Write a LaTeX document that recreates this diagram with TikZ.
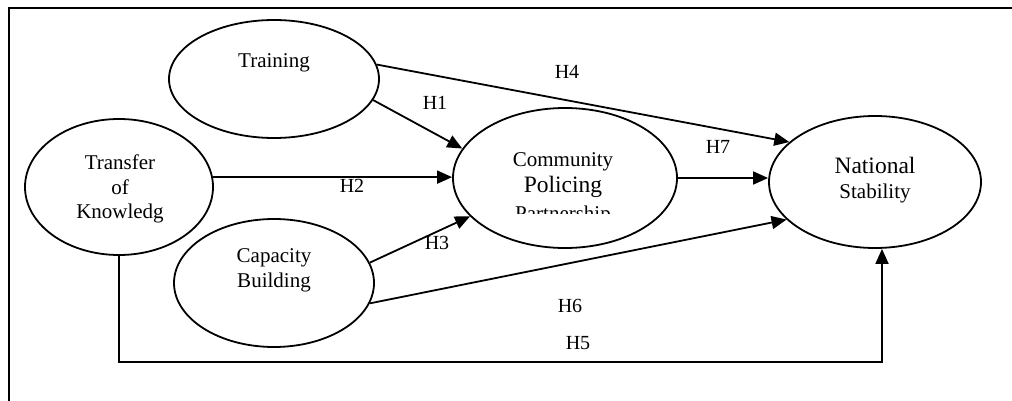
\documentclass[tikz,border=0pt]{standalone}
\usepackage{fontspec}
\setmainfont{Liberation Serif}
\usetikzlibrary{shapes.geometric,arrows.meta}
\begin{document}
\begin{tikzpicture}[x=1pt,y=-1pt,
  oval/.style={draw,ellipse,inner sep=0pt,line width=1.8pt},
  txt/.style={inner sep=0pt,anchor=base,font=\fontsize{21}{24}\selectfont},
  bigtxt/.style={inner sep=0pt,anchor=base,font=\fontsize{23.5}{26}\selectfont},
  lab/.style={inner sep=0pt,font=\fontsize{20}{22}\selectfont},
  arr/.style={-{Triangle[length=15pt,width=13pt]},line width=1.8pt}]
\useasboundingbox (0,0) rectangle (1012,401);
% frame
\draw[line width=2pt] (8.5,401) -- (8.5,8.5) -- (1012,8.5);
% ellipses
\node[oval,minimum width=210pt,minimum height=118pt] (tr) at (274,79) {};
\node[oval,minimum width=188pt,minimum height=136pt] (tk) at (119,187) {};
\node[oval,minimum width=200pt,minimum height=128pt] (cb) at (274,283) {};
\node[oval,minimum width=224pt,minimum height=140pt] (cp) at (565,178) {};
\node[oval,minimum width=212pt,minimum height=132pt] (ns) at (875,182) {};
% texts
\node[txt] (trt) at (274,68) {Training};
\node[txt] (tk1) at (120,170) {Transfer};
\node[txt] (tk2) at (120,194) {of};
\node[txt] (tk3) at (120,218) {Knowledg};
\node[txt] (cb1) at (274,262) {Capacity};
\node[txt] (cb2) at (274,287) {Building};
\node[txt] (cp1) at (563,167) {Community};
\node[bigtxt] (cp2) at (563,193) {Policing};
\begin{scope}
  \clip (450,100) rectangle (680,213);
  \node[txt] (cp3) at (563,220) {Partnership};
\end{scope}
\node[bigtxt] (ns1) at (875,173) {National};
\node[txt] (ns2) at (875,198) {Stability};
% connectors
\draw[arr] (tr.8) -- (ns.155);
\draw[arr] (tr.-12) -- (cp.164);
\draw[arr] (tk.6) -- (cp.west |- tk.6);
\draw[arr] (cb.12) -- (cp.-158);
\draw[arr] (cb.-12) -- (ns.-157);
\draw[arr] (cp.east) -- (ns.west |- cp.east);
\coordinate (h5) at (882,362);
\draw[arr] (tk.south) |- (h5) -- (h5 |- ns.south);
% labels
\node[lab] (l4) at (567,72) {H4};
\node[lab] (l1) at (435,103) {H1};
\node[lab] (l2) at (352,186) {H2};
\node[lab] (l3) at (437,243) {H3};
\node[lab] (l7) at (718,147) {H7};
\node[lab] (l6) at (570,306) {H6};
\node[lab] (l5) at (578,343) {H5};
\end{tikzpicture}
\end{document}
